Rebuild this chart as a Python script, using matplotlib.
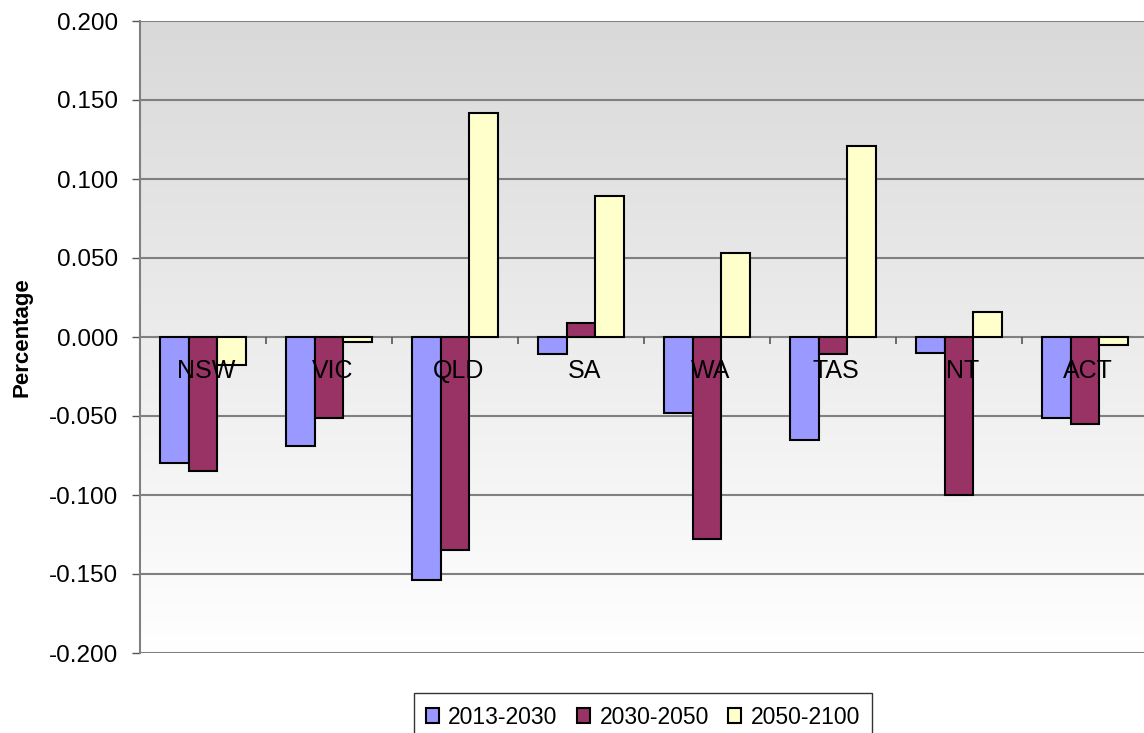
import matplotlib.pyplot as plt
import matplotlib.transforms as mtransforms
import numpy as np

plt.rcParams['font.family'] = ['Liberation Sans', 'DejaVu Sans']

states = ['NSW', 'VIC', 'QLD', 'SA', 'WA', 'TAS', 'NT', 'ACT']
periods = ['2013-2030', '2030-2050', '2050-2100']
p2013_2030 = [-0.080, -0.069, -0.154, -0.011, -0.048, -0.065, -0.010, -0.051]
p2030_2050 = [-0.085, -0.051, -0.135, 0.009, -0.128, -0.011, -0.100, -0.055]
p2050_2100 = [-0.018, -0.003, 0.142, 0.089, 0.053, 0.121, 0.016, -0.005]
colors = ['#9999ff', '#993366', '#ffffcc']
yticks = np.round(np.arange(-0.2, 0.2001, 0.05), 3) + 0.0

W, H = 1144, 733
fig = plt.figure(figsize=(W / 100, H / 100), dpi=100)
ax = fig.add_axes([140 / W, (H - 653) / H, (W + 4 - 140) / W, (653 - 21) / H])

# plot-area fill: grey at the top fading to white
grad = np.linspace(0, 1, 256).reshape(-1, 1)
ax.imshow(grad, extent=[0, 1, 0, 1], transform=ax.transAxes, aspect='auto',
          cmap=plt.matplotlib.colors.LinearSegmentedColormap.from_list(
              'bg', ['#d9d9d9', '#ffffff']), zorder=0)

x = np.arange(len(states))
width = 0.23
for k, (vals, lab, c) in enumerate(zip([p2013_2030, p2030_2050, p2050_2100], periods, colors)):
    ax.bar(x + (k - 1) * width, vals, width, color=c, edgecolor='black',
           linewidth=1.5, label=lab, zorder=2)

for v in yticks:
    ax.axhline(v, color='#808080', linewidth=1.5, zorder=1)

# category axis sits on the zero line with ticks between categories
ax.vlines(np.arange(len(states) + 1) - 0.5, 0, -0.0045, color='#555555',
          linewidth=1.2, zorder=1)
below_zero = mtransforms.offset_copy(ax.transData, fig=fig, y=-22, units='dots')
for xi, s in zip(x, states):
    ax.text(xi + 0.025, 0, s, ha='center', va='top', fontsize=18, zorder=3,
            transform=below_zero)

ax.set_xlim(-0.5, len(states) - 0.5)
ax.set_ylim(-0.2, 0.2)
ax.set_xticks([])
ax.set_yticks(yticks)
ax.set_yticklabels(['%.3f' % v for v in yticks], fontsize=17.5)
ax.tick_params(axis='y', length=6, width=1, color='#555555', pad=10)
for side in ['top', 'right', 'bottom']:
    ax.spines[side].set_visible(False)
ax.spines['left'].set_color('#808080')
ax.spines['left'].set_linewidth(1.5)
fig.text(22 / W, 1 - 337 / H, 'Percentage', rotation=90, ha='center', va='center',
         fontsize=16, fontweight='bold')

leg = fig.legend(loc='upper center', bbox_to_anchor=(643 / W, 1 - 693 / H),
                 ncol=3, fontsize=16.5, frameon=True, fancybox=False,
                 handlelength=0.57, handleheight=0.57, handletextpad=0.4,
                 columnspacing=0.85, borderpad=0.55, borderaxespad=0)
leg.get_frame().set_edgecolor('black')
leg.get_frame().set_linewidth(1.0)

fig.savefig('out.png', dpi=100)
